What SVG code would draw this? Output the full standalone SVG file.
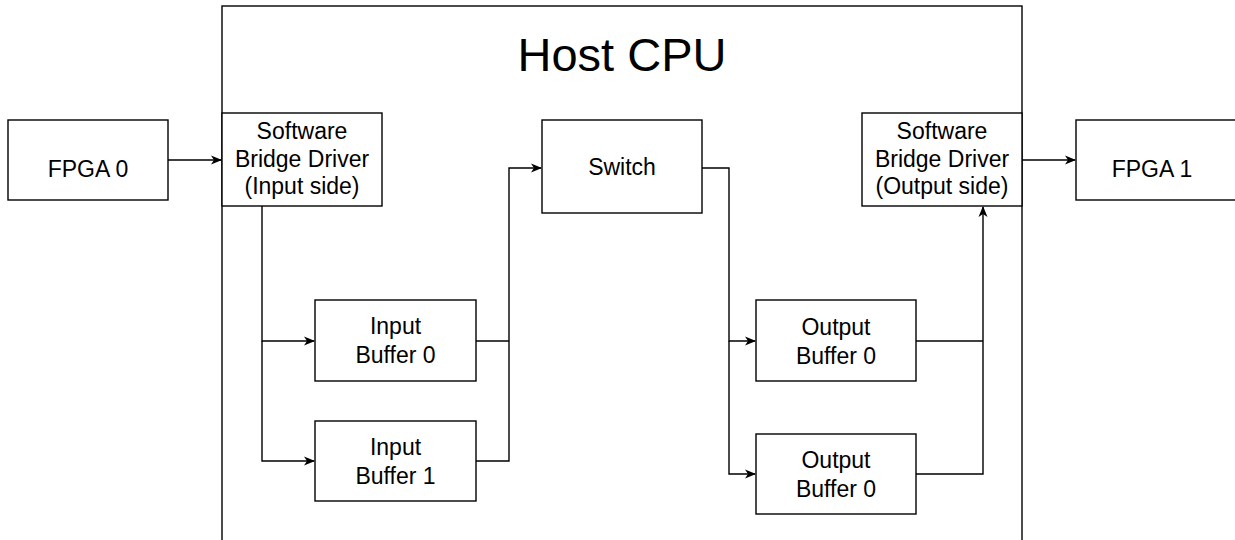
<svg xmlns="http://www.w3.org/2000/svg" width="1235" height="540" viewBox="0 0 1235 540">
<defs>
<style>
.box{fill:#fff;stroke:#000;stroke-width:1.4}
.host{fill:#fff;stroke:#000;stroke-width:1.4}
.t{font-family:"Liberation Sans",Arial,sans-serif;font-size:23px;fill:#000;text-anchor:middle}
.title{font-family:"Liberation Sans",Arial,sans-serif;font-size:47px;fill:#000;text-anchor:middle}
.c{fill:none;stroke:#000;stroke-width:1.4}
</style>
<marker id="arr" viewBox="0 0 11 10" refX="10" refY="5" markerWidth="11" markerHeight="10" markerUnits="userSpaceOnUse" orient="auto">
<path d="M0,0.5 L11,5 L0,9.5 L3,5 z" fill="#000"/>
</marker>
</defs>
<rect width="1235" height="540" fill="#fff"/>
<g id="host-cpu">
<rect class="host" x="222" y="6" width="800" height="600"/>
<text class="title" x="622" y="71">Host CPU</text>
</g>
<g id="fpga0">
<rect class="box" x="8" y="120" width="160" height="80"/>
<text class="t" x="88" y="177">FPGA 0</text>
</g>
<g id="sbd-in">
<rect class="box" x="222" y="113" width="160" height="93"/>
<text class="t" x="302" y="139">Software</text>
<text class="t" x="302" y="167">Bridge Driver</text>
<text class="t" x="302" y="194">(Input side)</text>
</g>
<g id="switch">
<rect class="box" x="542" y="120" width="160" height="93"/>
<text class="t" x="622" y="175">Switch</text>
</g>
<g id="sbd-out">
<rect class="box" x="862" y="113" width="160" height="93"/>
<text class="t" x="942" y="139">Software</text>
<text class="t" x="942" y="167">Bridge Driver</text>
<text class="t" x="942" y="194">(Output side)</text>
</g>
<g id="fpga1">
<rect class="box" x="1076" y="120" width="160" height="80"/>
<text class="t" x="1152" y="177">FPGA 1</text>
</g>
<g id="in-buf0">
<rect class="box" x="315" y="300" width="161" height="81"/>
<text class="t" x="395.5" y="334">Input</text>
<text class="t" x="395.5" y="363">Buffer 0</text>
</g>
<g id="in-buf1">
<rect class="box" x="315" y="421" width="161" height="80"/>
<text class="t" x="395.5" y="455">Input</text>
<text class="t" x="395.5" y="484">Buffer 1</text>
</g>
<g id="out-buf0">
<rect class="box" x="756" y="300" width="160" height="81"/>
<text class="t" x="836" y="335">Output</text>
<text class="t" x="836" y="364">Buffer 0</text>
</g>
<g id="out-buf1">
<rect class="box" x="756" y="434" width="160" height="80"/>
<text class="t" x="836" y="468">Output</text>
<text class="t" x="836" y="497">Buffer 0</text>
</g>
<g id="connectors">
<path class="c" d="M168,160 H221" marker-end="url(#arr)"/>
<path class="c" d="M262,206 V341 H314" marker-end="url(#arr)"/>
<path class="c" d="M262,341 V461 H314" marker-end="url(#arr)"/>
<path class="c" d="M476,341 H509"/>
<path class="c" d="M476,461 H509 V168 H541" marker-end="url(#arr)"/>
<path class="c" d="M702,168 H729 V341 H755" marker-end="url(#arr)"/>
<path class="c" d="M729,341 V474 H755" marker-end="url(#arr)"/>
<path class="c" d="M916,341 H983"/>
<path class="c" d="M916,474 H983 V207" marker-end="url(#arr)"/>
<path class="c" d="M1022,160 H1075" marker-end="url(#arr)"/>
</g>
</svg>
